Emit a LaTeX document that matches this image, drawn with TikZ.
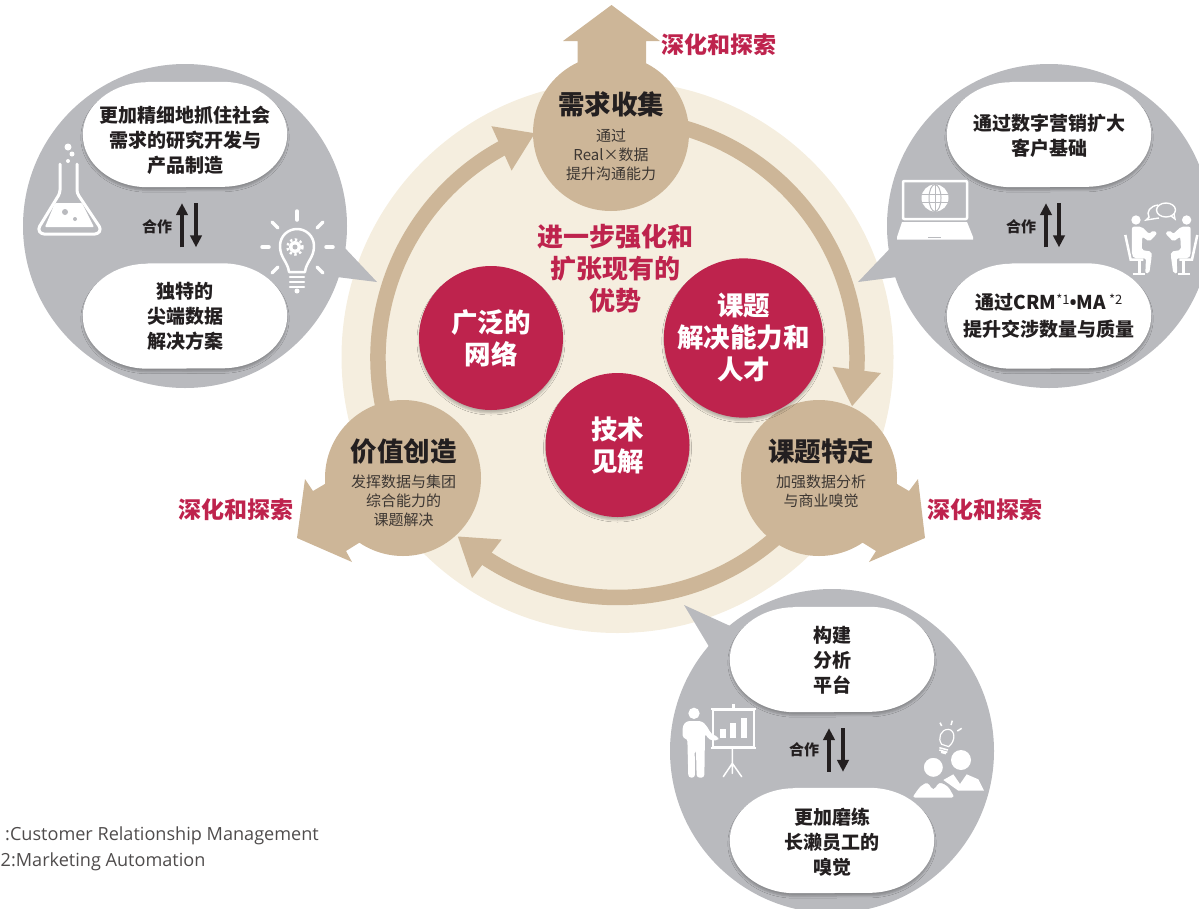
\documentclass[tikz,border=0pt]{standalone}
\usepackage{fontspec}
\setmainfont{Noto Sans CJK SC}
\newfontfamily\notefont{Open Sans}
\usetikzlibrary{arrows.meta,bending,shadows,shadows.blur}

\definecolor{tanc}{HTML}{CDB698}
\definecolor{beigec}{HTML}{F5EEDF}
\definecolor{redc}{HTML}{BE234D}
\definecolor{grayc}{HTML}{B9BABE}
\definecolor{inkc}{HTML}{231F20}

\newcommand{\starnote}[1]{\raisebox{5pt}{\fontsize{13}{13}\selectfont\mdseries *#1}}

\tikzset{
  softshadow/.style={blur shadow={shadow xshift=0pt,shadow yshift=-3pt,shadow blur radius=2pt,shadow blur steps=5,shadow opacity=25}},
  tanball/.style={circle,fill=tanc,minimum size=156pt,inner sep=0pt},
  redball/.style={circle,fill=redc,minimum size=144pt,inner sep=0pt,align=center,text=white,
    font=\fontsize{26.5}{32}\selectfont\bfseries,softshadow},
  grayball/.style={circle,fill=grayc,minimum size=324pt,inner sep=0pt},
  pillbox/.style={rectangle,minimum width=204pt,minimum height=105pt,inner sep=0pt},
  pillfill/.style={fill=white,softshadow},
  pilltext/.style={align=center,text=inkc,font=\fontsize{19}{25}\selectfont\bfseries},
  balltitle/.style={text=inkc,font=\fontsize{26.5}{30}\selectfont\bfseries},
  ballsub/.style={align=center,text=inkc!85!tanc,font=\fontsize{15}{19}\selectfont},
  deeper/.style={text=redc,font=\fontsize{23}{26}\selectfont\bfseries},
  coop/.style={text=inkc,font=\fontsize{15}{18}\selectfont\bfseries},
  updown/.style={draw=inkc,line width=3.5pt,-{Triangle[length=12pt,width=11.5pt]},shorten >=16pt,shorten <=16pt},
  ringband/.style={draw=tanc,line width=15.5pt,-{Triangle[length=37pt,width=46pt]}},
  iconline/.style={draw=white,line width=2.5pt,line cap=round,line join=round},
  notetext/.style={anchor=west,inner sep=0pt,text=inkc!80,font=\notefont\fontsize{18.1}{22}\selectfont},
}

\begin{document}
\begin{tikzpicture}[x=1pt,y=-1pt]
  \useasboundingbox (0,0) rectangle (1199,908);

  %back disc
  \coordinate (ringc) at (617.5,358);
  \fill[beigec] (617.5,357) circle[radius=276];

  %ring of arrows
  \foreach \a/\b in {-74/11.7, 45/131.9, 165/249.9}{
    \draw[ringband] ([shift={(\a:239.5)}]ringc) arc[start angle=\a,end angle=\b,radius=239.5];
  }

  %big outward arrows
  \fill[tanc] (577.5,70) -- (577.5,41) -- (563,41) -- (611.5,5) -- (660,41) -- (646,41) -- (646,70) -- cycle;
  \fill[tanc] (330,481) -- (313,491) -- (305,479) -- (297,538) -- (352,562) -- (346,551) -- (370,536) -- cycle;
  \fill[tanc] (892,481) -- (909,491) -- (918,479) -- (925,538) -- (869,562) -- (876,551) -- (852,536) -- cycle;

  %tan circles
  \node[tanball] (need) at (611,133) {};
  \node[tanball] (issue) at (819,478) {};
  \node[tanball] (value) at (403,478) {};

  \node[balltitle] (needt) at (611,104) {需求收集};
  \node[ballsub] (needs) at (611,154.5) {通过\\Real×数据\\提升沟通能力};
  \node[balltitle] (issuet) at (821,451) {课题特定};
  \node[ballsub] (issues) at (821,491.5) {加强数据分析\\与商业嗅觉};
  \node[balltitle] (valuet) at (403.5,451) {价值创造};
  \node[ballsub] (values) at (403.5,501) {发挥数据与集团\\综合能力的\\课题解决};

  \foreach \x/\y/\n in {719/45/a, 236/510/b, 985/510/c}{
    \node[deeper] (deep\n) at (\x,\y) {深化和探索};
  }

  %center
  \node[align=center,text=redc,font=\fontsize{26}{32}\selectfont\bfseries] (core) at (615.5,269) {进一步强化和\\扩张现有的\\优势};
  \node[redball] (net) at (491,338) {广泛的\\网络};
  \node[redball] (skill) at (743.5,338) {课题\\解决能力和\\人才};
  \node[redball] (tech) at (617.5,445) {技术\\见解};

  %gray bubbles
  \fill[grayc] (335,237.5) -- (377,282) -- (325,275.5) -- cycle;
  \fill[grayc] (900,238) -- (858,282) -- (905,276) -- cycle;
  \fill[grayc] (750,635) -- (684,605) -- (714,655) -- cycle;
  \node[grayball] (lball) at (185,226) {};
  \node[grayball] (rball) at (1049,226) {};
  \node[grayball] (bball) at (832,751) {};

  %white pills
  \foreach \name/\x/\y/\ty/\txt in {
    lt/185/134.5/140/{更加精细地抓住社会\\需求的研究开发与\\产品制造},
    lb/185/316/316/{独特的\\尖端数据\\解决方案},
    rt/1049/134.5/136/{通过数字营销扩大\\客户基础},
    rb/1049/316/316/{通过CRM\starnote{1}{\notefont\textbullet}MA\,\starnote{2}\\[2pt]提升交涉数量与质量},
    bt/832/659.5/660/{构建\\分析\\平台},
    bb/832/840.5/842/{更加磨练\\长濑员工的\\嗅觉}}{
    \node[pillbox] (\name) at (\x,\y) {};
    \fill[pillfill] ([xshift=65pt]\name.north west) -- ([xshift=-65pt]\name.north east)
      arc[start angle=-90,end angle=90,x radius=65,y radius=52.5]
      -- ([xshift=65pt]\name.south west)
      arc[start angle=90,end angle=270,x radius=65,y radius=52.5] -- cycle;
    \node[pilltext] (\name t) at (\x,\ty) {\txt};
  }

  %arrows between pills
  \foreach \top/\bot/\dx in {lt/lb/11, rt/rb/10, bt/bb/11}{
    \draw[updown] ([xshift=-3pt]\bot.north) -- ([xshift=-3pt]\top.south);
    \draw[updown] ([xshift=\dx pt]\top.south) -- ([xshift=\dx pt]\bot.north);
  }
  \node[coop] (coopl) at (157,227) {合作};
  \node[coop] (coopr) at (1021,227) {合作};
  \node[coop] (coopb) at (804,750) {合作};

  %flask
  \draw[iconline,line width=3pt,rounded corners=3pt] (60,164) -- (60,193) -- (38,229) -- (41,234) -- (98,234) -- (101,229) -- (77,193) -- (77,164);
  \fill[white,rounded corners=1pt] (55,203) -- (82,203) -- (94,227) -- (45,227) -- cycle;
  \fill[grayc] (65,212) circle[radius=3];
  \fill[grayc] (75,219) circle[radius=2];
  \fill[white] (68,147) circle[radius=3.5];
  \fill[white] (72,154) circle[radius=2.5];
  \fill[white] (68,161) circle[radius=2];

  %bulb with gear
  \draw[iconline] (289,272) .. controls (288,262) and (280,258) .. (280,246) .. controls (280,236) and (288,229) .. (297,229) .. controls (306,229) and (314,236) .. (314,246) .. controls (314,258) and (306,262) .. (305,272) -- cycle;
  \foreach \yy in {277,282,287}{
    \draw[iconline] (290,\yy) -- (304,\yy);
  }
  \fill[white] (297,291) circle[radius=2.5];
  \foreach \xa/\ya/\xb/\yb in {297/211/297/220, 326/247/333/247, 262/247/269/247, 272/222/278/228, 323/222/317/228, 272/273/278/267, 323/273/317/267}{
    \draw[iconline,line width=3.5pt] (\xa,\ya) -- (\xb,\yb);
  }
  \fill[white] (295,247) circle[radius=6];
  \draw[white,line width=2.5pt,dash pattern=on 2.4pt off 2.6pt] (295,247) circle[radius=7.5];
  \fill[grayc] (295,247) circle[radius=2.5];

  %laptop
  \draw[iconline,rounded corners=1pt] (903,181) rectangle (967,219);
  \fill[white] (902,222) -- (967,222) -- (973,237) -- (973,239.5) -- (897,239.5) -- (897,237) -- cycle;
  \draw[grayc,line width=1pt] (928,237) -- (941,237);
  \fill[white] (935,198) circle[radius=13.5];
  \draw[grayc,line width=1pt] (922,194) -- (948,194) (922,202) -- (948,202) (935,185) -- (935,211);
  \draw[grayc,line width=1pt] (935,198) ellipse[x radius=6,y radius=13.5];

  %meeting
  \foreach \sx in {1,-1}{
    \begin{scope}[shift={(1161.3,190)},xscale=\sx,scale=.3333]
      \fill[white] (-76,90) circle[radius=14];
      \fill[white,rounded corners=2pt] (-88,110) -- (-59,110) -- (-36,132) -- (-24,120) -- (-12,130) -- (-36,155) -- (-57,140) -- (-59,180) -- (-29,185) -- (-29,200) -- (-36,250) -- (-48,250) -- (-46,205) -- (-82,205) -- (-88,195) -- cycle;
      \draw[white,line width=2.5pt] (-108,135) -- (-92,209) -- (-54,209);
      \draw[white,line width=2.5pt] (-66,209) -- (-66,250) (-86,252) -- (-49,252);
    \end{scope}
  }
  \draw[white,line width=1.4pt] (1166,210) ellipse[x radius=9.5,y radius=7];
  \draw[white,line width=1.4pt] (1171,216) -- (1175,219) -- (1174,214);
  \draw[white,line width=1.4pt] (1158,205) .. controls (1150,206) and (1146,212) .. (1149,217) -- (1146,220) -- (1159,218);

  %presenter with chart
  \begin{scope}[shift={(670,695)},scale=.3333]
    \fill[white] (72,55) circle[radius=17];
    \fill[white,rounded corners=3pt] (38,130) -- (38,92) -- (50,78) -- (95,78) -- (108,90) -- (125,118) -- (145,125) -- (145,137) -- (118,135) -- (105,115) -- (103,248) -- (80,248) -- (78,165) -- (74,165) -- (75,248) -- (55,248) -- (52,130) -- cycle;
    \draw[white,line width=2pt] (128,45) rectangle (253,157);
    \fill[white] (122,38) rectangle (258,45);
    \fill[white] (122,157) rectangle (258,163);
    \fill[white] (187,28) rectangle (194,38);
    \fill[white] (150,103) rectangle (167,130);
    \fill[white] (180,85) rectangle (197,130);
    \fill[white] (212,70) rectangle (230,130);
    \draw[white,line width=1.5pt,line cap=round] (187,163) -- (187,235) (187,205) -- (160,245) (187,205) -- (215,245);
  \end{scope}

  %people with bulb
  \begin{scope}[shift={(900,710)},scale=.3333]
    \fill[white] (183,150) circle[radius=30];
    \fill[white] (130,210) -- (160,193) -- (180,222) -- (200,193) -- (235,208) -- (252,242) -- (175,242) -- cycle;
    \draw[grayc,line width=1.5pt,fill=white] (100,172) circle[radius=31];
    \draw[grayc,line width=1.5pt,fill=white,rounded corners=4pt] (32,265) -- (60,225) -- (85,213) -- (100,240) -- (115,213) -- (145,225) -- (168,265) -- cycle;
    \draw[white,line width=1.2pt] (125,103) .. controls (112,85) and (122,58) .. (145,58) .. controls (166,60) and (168,92) .. (146,110) -- cycle;
    \draw[white,line width=1.5pt] (118,113) -- (144,120) (118,120) -- (142,127) (123,127) -- (138,131);
    \draw[white,line width=1.5pt] (120,38) -- (125,48) (157,32) -- (153,45) (185,55) -- (172,63);
  \end{scope}

  %footnotes
  \node[notetext] (note1) at (5,836) {:Customer Relationship Management};
  \node[notetext] (note2) at (0.5,862) {2:Marketing Automation};
\end{tikzpicture}
\end{document}
